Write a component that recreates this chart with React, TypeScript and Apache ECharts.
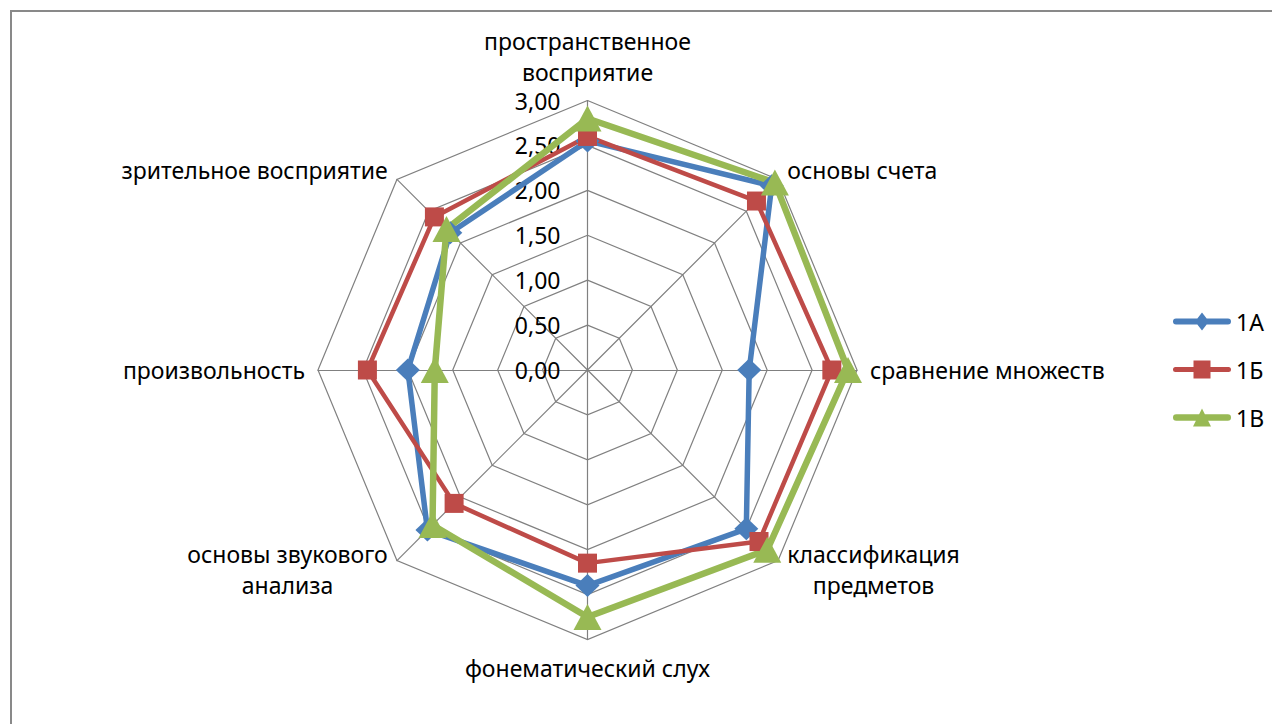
import React, { useEffect, useRef } from 'react';
import * as echarts from 'echarts';

// ---- data (clockwise from top, as in the picture) ----
const categories = [
  'пространственное\nвосприятие',
  'основы счета',
  'сравнение множеств',
  'классификация\nпредметов',
  'фонематический слух',
  'основы звукового\nанализа',
  'произвольность',
  'зрительное восприятие',
];
const seriesNames = ['1А', '1Б', '1В'];
const values1A = [2.55, 2.9, 1.8, 2.5, 2.4, 2.52, 2.0, 2.16];
const values1B = [2.6, 2.66, 2.72, 2.7, 2.15, 2.1, 2.45, 2.41];
const values1V = [2.8, 2.95, 2.9, 2.83, 2.75, 2.44, 1.7, 2.22];
const tickLabels = ['0,00', '0,50', '1,00', '1,50', '2,00', '2,50', '3,00'];
const axisMin = 0;
const axisMax = 3;
const tickStep = 0.5;

// ---- styles ----
const FONT = '"Noto Sans", "DejaVu Sans", sans-serif';
const FS = 23;
const GRID = '#808080';
const colors = ['#4A7EBB', '#BE4B48', '#98B954'];
const lineWidths = [5.5, 4.5, 6.5];
const symbols = ['diamond', 'rect', 'triangle'];
const symbolSizes: any[] = [[24, 23], [19, 19], [28, 26]];
const legendIcons = [
  'path://M3,6H55A3,3 0 0 1 55,12H3A3,3 0 0 1 3,6Z M29,0L36,9L29,18L22,9Z',
  'path://M2.5,6.5H55.5A2.5,2.5 0 0 1 55.5,11.5H2.5A2.5,2.5 0 0 1 2.5,6.5Z M20.5,0H37.5V18H20.5Z',
  'path://M3.25,5.75H54.75A3.25,3.25 0 0 1 54.75,12.25H3.25A3.25,3.25 0 0 1 3.25,5.75Z M29,0L38,18H20Z',
];

// ECharts lays radar indicators out counter-clockwise; reorder to get clockwise
const toCcw = <T,>(a: T[]): T[] => [a[0], ...a.slice(1).reverse()];

export default function App() {
  const ref = useRef<HTMLDivElement>(null);
  useEffect(() => {
    document.body.style.margin = '0';
    const chart = echarts.init(ref.current!, null, { renderer: 'svg' });
    const seriesValues = [values1A, values1B, values1V];
    const option: any = {
      animation: false,
      backgroundColor: '#fff',
      graphic: [
        {
          type: 'rect',
          shape: { x: 11, y: 11, width: 1400, height: 900 },
          style: { fill: 'none', stroke: '#898989', lineWidth: 2 },
          silent: true,
          z: -10,
        },
      ],
      legend: {
        orient: 'vertical',
        left: 1173,
        top: 310,
        padding: 0,
        itemWidth: 58,
        itemHeight: 18,
        itemGap: 25,
        textStyle: { fontFamily: FONT, fontSize: FS, color: '#000' },
        itemStyle: { borderWidth: 0 },
        data: seriesNames.map((name, i) => ({
          name,
          icon: legendIcons[i],
          itemStyle: { color: colors[i], borderWidth: 0 },
        })),
      },
      radar: {
        center: [587.5, 370],
        radius: 269.5,
        shape: 'polygon',
        splitNumber: (axisMax - axisMin) / tickStep,
        nameGap: 13,
        axisName: {
          color: '#000',
          fontFamily: FONT,
          fontSize: FS,
          lineHeight: 31,
          formatter: (name: string) =>
            name
              .split('\n')
              .map((l) => `{c|${l}}`)
              .join('\n'),
          rich: {
            c: { align: 'center', fontFamily: FONT, fontSize: FS, lineHeight: 31, color: '#000' },
          },
        },
        axisLine: { lineStyle: { color: GRID, width: 1.2 } },
        splitLine: { lineStyle: { color: GRID, width: 1.2 } },
        splitArea: { show: false },
        axisTick: { show: false },
        axisLabel: { show: false },
        indicator: toCcw(categories).map((name, i) => {
          const ind: any = { name, min: axisMin, max: axisMax };
          if (i === 0) {
            ind.axisLabel = {
              show: true,
              color: '#000',
              fontFamily: FONT,
              fontSize: FS,
              lineHeight: 22,
              margin: 27,
              formatter: (v: number) => tickLabels[Math.round((v - axisMin) / tickStep)],
            };
          }
          return ind;
        }),
      },
      series: [
        {
          type: 'radar',
          data: seriesNames.map((name, i) => ({
            name,
            value: toCcw(seriesValues[i]),
            symbol: symbols[i],
            symbolSize: symbolSizes[i],
            lineStyle: { color: colors[i], width: lineWidths[i] },
            itemStyle: { color: colors[i], borderColor: colors[i], borderWidth: 0 },
          })),
        },
      ],
    };
    chart.setOption(option);
    return () => chart.dispose();
  }, []);
  return <div ref={ref} style={{ width: 1272, height: 724 }} />;
}
